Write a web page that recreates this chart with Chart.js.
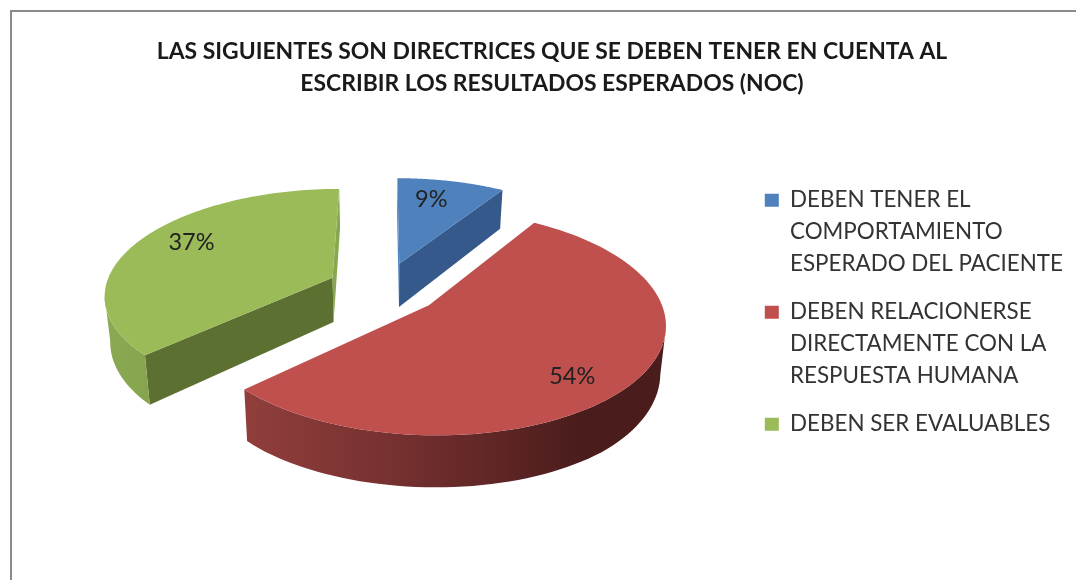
<!DOCTYPE html>
<html>
<head>
<meta charset="utf-8">
<script src="https://cdn.jsdelivr.net/npm/chart.js@4"></script>
<style>
html,body{margin:0;padding:0;background:#fff;overflow:hidden}
#wrap{position:absolute;left:0;top:0;width:1076px;height:580px;filter:blur(.55px)}
</style>
</head>
<body>
<div id="wrap"><canvas id="c" width="1076" height="580"></canvas></div>
<script>
const titleLines = ['LAS SIGUIENTES SON DIRECTRICES QUE SE DEBEN TENER EN CUENTA AL', 'ESCRIBIR LOS RESULTADOS ESPERADOS (NOC)'];
const categories = [
  ['DEBEN TENER EL', 'COMPORTAMIENTO', 'ESPERADO DEL PACIENTE'],
  ['DEBEN RELACIONERSE', 'DIRECTAMENTE CON LA', 'RESPUESTA HUMANA'],
  ['DEBEN SER EVALUABLES']
];
const values = [9, 54, 37];
const topColors = ['#4f81bd', '#c0504d', '#9bbb59'];
const cutColors = ['#35598a', '#8f3e3c', '#5c7032'];
const rimStops = [
  [[0, '#35598a'], [1, '#35598a']],
  [[0, '#903e3c'], [0.3, '#7a3332'], [0.6, '#5f2625'], [0.8, '#4a1c1c'], [1, '#4a1c1c']],
  [[0, '#8aa952'], [1, '#76923f']]
];
const labelAnchors = [[0.4, 0.75], [0.54, 0.8], [0.535, 0.765]];
const view = {x0: 384, y0: 288, a: 227.5, b: 105, k: 0.15, depth: 45, maxDepth: 52, shrink: 0.98};

function project(u, v, low) {
  const w = 1 + view.k * v;
  let x = view.x0 + view.a * u / w;
  let y = view.y0 - view.b * v / w;
  if (low) { x = view.x0 + (x - view.x0) * view.shrink; y += Math.min(view.depth / w, view.maxDepth); }
  return [x, y];
}
function pointOn(arc, angle, frac, low) {
  const mid = (arc.startAngle + arc.endAngle) / 2;
  const e = arc.options.offset / 4 / arc.outerRadius;
  const u = frac * Math.cos(angle) + e * Math.cos(mid);
  const v = -(frac * Math.sin(angle) + e * Math.sin(mid));
  return project(u, v, low);
}
function poly(ctx, pts, fill) {
  ctx.beginPath();
  pts.forEach((p, i) => i ? ctx.lineTo(p[0], p[1]) : ctx.moveTo(p[0], p[1]));
  ctx.closePath();
  ctx.fillStyle = fill;
  ctx.fill();
}
const perspectivePie = {
  id: 'perspectivePie',
  beforeDraw(chart) {
    const ctx = chart.ctx;
    ctx.save();
    ctx.fillStyle = '#8a8a8a';
    ctx.fillRect(10, 10, 1066, 2);
    ctx.fillRect(10, 10, 2, 570);
    ctx.restore();
  },
  beforeDatasetsDraw(chart) {
    const ctx = chart.ctx;
    const arcs = chart.getDatasetMeta(0).data;
    const total = values.reduce((a, b) => a + b, 0);
    ctx.save();
    arcs.forEach((arc, i) => {
      const n = 96, rim = [];
      for (let s = 0; s <= n; s++) rim.push(arc.startAngle + (arc.endAngle - arc.startAngle) * s / n);
      const apexHi = pointOn(arc, 0, 0, false), apexLo = pointOn(arc, 0, 0, true);
      const hi = rim.map(a => pointOn(arc, a, 1, false));
      const lo = rim.map(a => pointOn(arc, a, 1, true));
      const minX = Math.min(...hi.map(p => p[0])), maxX = Math.max(...hi.map(p => p[0]));
      const grad = ctx.createLinearGradient(minX, 0, maxX, 0);
      rimStops[i].forEach(s => grad.addColorStop(s[0], s[1]));
      // cut faces, then the rim, only where they face the viewer
      if (hi[0][0] < apexHi[0]) poly(ctx, [apexHi, hi[0], lo[0], apexLo], i === 0 ? topColors[0] : cutColors[i]);
      if (apexHi[0] < hi[n][0]) poly(ctx, [hi[n], apexHi, apexLo, lo[n]], i === 2 ? '#87a84f' : cutColors[i]);
      const visHi = [], visLo = [];
      for (let s = 0; s < n; s++) {
        if (hi[s + 1][0] < hi[s][0]) {
          if (!visHi.length) { visHi.push(hi[s]); visLo.push(lo[s]); }
          visHi.push(hi[s + 1]); visLo.push(lo[s + 1]);
        }
      }
      if (visHi.length) poly(ctx, [...visHi, ...visLo.reverse()], grad);
      poly(ctx, [apexHi, ...hi], topColors[i]);
    });
    ctx.font = '23.5px Lato';
    ctx.fillStyle = '#222222';
    ctx.textAlign = 'center';
    ctx.textBaseline = 'middle';
    arcs.forEach((arc, i) => {
      const a = arc.startAngle + (arc.endAngle - arc.startAngle) * labelAnchors[i][0];
      const p = pointOn(arc, a, labelAnchors[i][1], false);
      ctx.fillText(Math.round(values[i] / total * 100) + '%', p[0], p[1]);
    });
    ctx.restore();
    return false;
  }
};
new Chart(document.getElementById('c'), {
  type: 'pie',
  data: {
    labels: categories,
    datasets: [{data: values, backgroundColor: topColors, offset: 200, radius: 200, borderWidth: 0}]
  },
  plugins: [perspectivePie],
  options: {
    responsive: false,
    animation: false,
    events: [],
    layout: {padding: {left: 31, right: 3, top: 0, bottom: 0}},
    plugins: {
      tooltip: {enabled: false},
      title: {
        display: true,
        text: titleLines,
        color: '#1a1a1a',
        font: {family: 'Lato', size: 22.9, weight: 'bold', lineHeight: '32px'},
        padding: {top: 36, bottom: 73}
      },
      legend: {
        position: 'right',
        align: 'start',
        fullSize: false,
        labels: {
          color: '#333333',
          font: {family: 'Lato', size: 22.4, lineHeight: '32px'},
          boxWidth: 14,
          boxHeight: 13,
          padding: 16
        }
      }
    }
  }
});
</script>
</body>
</html>
